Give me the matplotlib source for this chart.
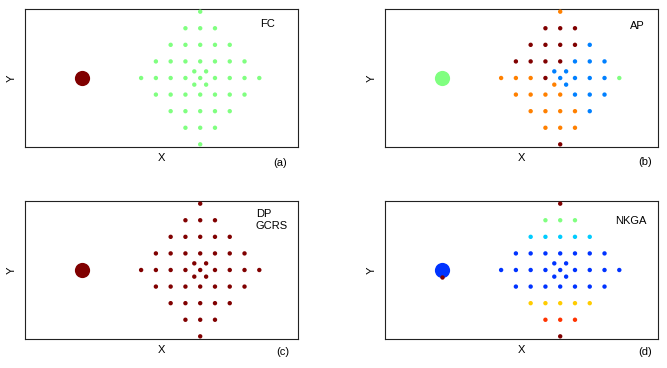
import matplotlib
matplotlib.use("Agg")
import matplotlib.pyplot as plt

plt.rcParams['font.family'] = ['Liberation Sans', 'DejaVu Sans']

# Sensor grid (grid units), diamond layout plus 4 inner points
pt_x = [0,
        -1, 0, 1,
        -2, -1, 0, 1, 2,
        -3, -2, -1, 0, 1, 2, 3,
        -4, -3, -2, -1, 0, 1, 2, 3, 4,
        -0.4, 0.4, -0.4, 0.4,
        -3, -2, -1, 0, 1, 2, 3,
        -2, -1, 0, 1, 2,
        -1, 0, 1,
        0]
pt_y = [4,
        3, 3, 3,
        2, 2, 2, 2, 2,
        1, 1, 1, 1, 1, 1, 1,
        0, 0, 0, 0, 0, 0, 0, 0, 0,
        0.4, 0.4, -0.4, -0.4,
        -1, -1, -1, -1, -1, -1, -1,
        -2, -2, -2, -2, -2,
        -3, -3, -3,
        -4]

source_x = -8
source_y = 0

DR, LG, BL, OR = '#800000', '#80FF80', '#0080FF', '#FF8000'
NB, CY, YE, RE = '#0033FF', '#00CCFF', '#FFCC00', '#FF3300'

colors_a = [LG] * 45
colors_b = [OR,
            DR, DR, DR,
            DR, DR, DR, DR, BL,
            DR, DR, DR, DR, BL, BL, BL,
            OR, OR, OR, DR, BL, BL, BL, BL, LG,
            BL, BL, OR, BL,
            OR, OR, OR, OR, BL, BL, BL,
            OR, OR, OR, OR, BL,
            OR, OR, OR,
            DR]
colors_c = [DR] * 45
colors_d = [DR,
            LG, LG, LG,
            CY, CY, CY, CY, CY,
            NB, NB, NB, NB, NB, NB, NB,
            NB, NB, NB, NB, NB, NB, NB, NB, NB,
            NB, NB, NB, NB,
            NB, NB, NB, NB, NB, NB, NB,
            YE, YE, YE, YE, YE,
            RE, RE, RE,
            DR]

panels = [
    dict(pos=(25, 9), cols=colors_a, src=DR, label='FC', lab_xy=(0.89, 0.891), ha='center',
         tag='(a)', tag_xy=(0.936, -0.114), xl_y=-0.078),
    dict(pos=(385, 9), cols=colors_b, src=LG, label='AP', lab_xy=(0.925, 0.879), ha='center',
         tag='(b)', tag_xy=(0.952, -0.109), xl_y=-0.078),
    dict(pos=(25, 201), cols=colors_c, src=DR, label='DP\nGCRS', lab_xy=(0.846, 0.864), ha='left',
         tag='(c)', tag_xy=(0.945, -0.094), xl_y=-0.08),
    dict(pos=(385, 201), cols=colors_d, src=NB, label='NKGA', lab_xy=(0.901, 0.857), ha='center',
         tag='(d)', tag_xy=(0.954, -0.094), xl_y=-0.08),
]

W, H = 667, 368
fig = plt.figure(figsize=(W / 100, H / 100), dpi=100)
aw, ah = 273, 138
for i, p in enumerate(panels):
    x0, y0 = p['pos']
    ax = fig.add_axes([x0 / W, 1 - (y0 + ah) / H, aw / W, ah / H])
    ax.scatter([source_x], [source_y], s=120, c=p['src'], linewidths=0, zorder=2)
    if i == 3:
        ax.scatter([source_x], [-0.4], s=10, c=DR, linewidths=0, zorder=3)
    ax.scatter(pt_x, pt_y, s=10, c=p['cols'], linewidths=0, zorder=3)
    ax.set_xlim(-11.86, 6.62)
    ax.set_ylim(-4.16, 4.16)
    ax.set_xticks([])
    ax.set_yticks([])
    for sp in ax.spines.values():
        sp.set_linewidth(0.8)
        sp.set_color('#222222')
    ax.text(p['lab_xy'][0], p['lab_xy'][1], p['label'], transform=ax.transAxes,
            ha=p['ha'], va='center', fontsize=8, linespacing=1.3)
    ax.text(0.5, p['xl_y'], 'X', transform=ax.transAxes, ha='center', va='center', fontsize=8)
    ax.text(-0.049, 0.5, 'Y', transform=ax.transAxes, ha='center', va='center',
            fontsize=8, rotation=90)
    ax.text(p['tag_xy'][0], p['tag_xy'][1], p['tag'], transform=ax.transAxes,
            ha='center', va='center', fontsize=8)

fig.savefig('out.png', dpi=100)
